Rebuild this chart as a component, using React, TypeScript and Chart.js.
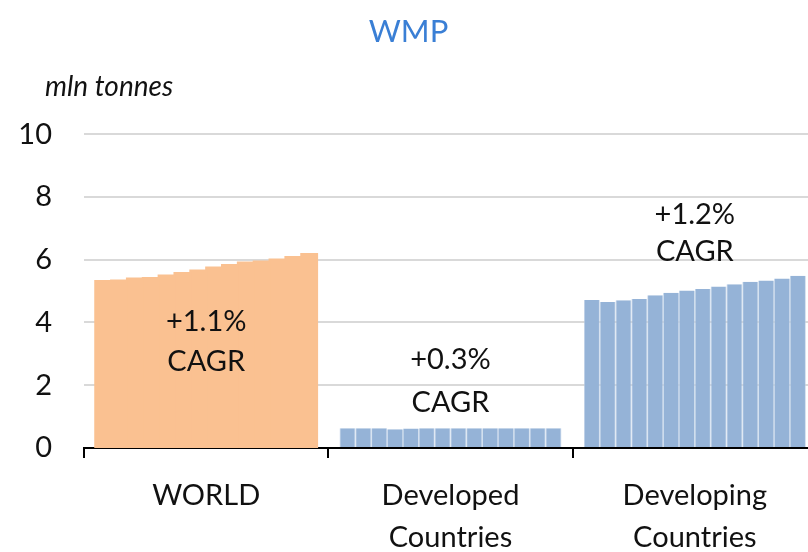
import React, { useEffect, useRef } from "react";
import { Chart, registerables } from "chart.js";

Chart.register(...registerables);

const categories: (string | string[])[] = ["WORLD", ["Developed", "Countries"], ["Developing", "Countries"]];
const years = ["2012", "2013", "2014", "2015", "2016", "2017", "2018", "2019", "2020", "2021", "2022", "2023", "2024", "2025"];
const worldValues = [5.32, 5.34, 5.4, 5.42, 5.5, 5.58, 5.66, 5.75, 5.83, 5.91, 5.94, 6.01, 6.09, 6.18];
const developedValues = [0.63, 0.63, 0.63, 0.6, 0.62, 0.63, 0.63, 0.63, 0.63, 0.63, 0.63, 0.63, 0.63, 0.63];
const developingValues = [4.72, 4.65, 4.71, 4.75, 4.87, 4.95, 5.02, 5.07, 5.15, 5.22, 5.3, 5.34, 5.4, 5.49];
const cagrLabels = ["+1.1%", "+0.3%", "+1.2%"];
const cagrLineValues = [
  [4.02, 2.75],
  [2.8, 1.45],
  [7.45, 6.25],
];
const yTicks = [0, 2, 4, 6, 8, 10];

const ORANGE = "#FAC191";
const BLUE = "#95B3D7";
const SEP = "#BCCFE6";
const FONT = "Lato, 'Open Sans', sans-serif";

const annotationPlugin = {
  id: "cagrAnnotations",
  afterDatasetsDraw(chart: any) {
    const { ctx, scales, chartArea } = chart;
    const x = scales.x;
    const y = scales.y;
    ctx.save();
    ctx.fillStyle = "#111";
    ctx.font = `29px ${FONT}`;
    ctx.textAlign = "center";
    ctx.textBaseline = "middle";
    cagrLabels.forEach((lab, i) => {
      const px = x.getPixelForValue(i);
      ctx.fillText(lab, px, y.getPixelForValue(cagrLineValues[i][0]));
      ctx.fillText("CAGR", px, y.getPixelForValue(cagrLineValues[i][1]));
    });
    ctx.font = `italic 28px ${FONT}`;
    ctx.textAlign = "left";
    ctx.fillText("mln tonnes", 45, chartArea.top - 47);
    ctx.restore();
  },
};

export default function App() {
  const ref = useRef<HTMLCanvasElement>(null);
  useEffect(() => {
    if (!ref.current) return;
    const datasets = years.map((yr, i) => ({
      label: yr,
      data: [worldValues[i], developedValues[i], developingValues[i]],
      backgroundColor: [ORANGE, BLUE, BLUE],
      borderColor: [ORANGE, SEP, SEP],
      borderWidth: (c: any) => (c.dataIndex === 0 ? 0 : { top: 0, bottom: 0, left: 0.8, right: 0.8 }),
      inflateAmount: (c: any) => (c.dataIndex === 0 ? 1 : 0),
      barPercentage: 1.0,
      categoryPercentage: 0.908,
    }));
    const chart = new Chart(ref.current, {
      type: "bar",
      data: { labels: categories, datasets },
      plugins: [annotationPlugin],
      options: {
        animation: false,
        responsive: false,
        layout: { padding: { left: 0, right: 3, top: 0, bottom: 0 } },
        plugins: {
          legend: { display: false },
          tooltip: { enabled: false },
          title: {
            display: true,
            text: "WMP",
            color: "#3A7FD5",
            font: { family: FONT, size: 31, weight: "normal", lineHeight: 1.2 },
            padding: { top: 13, bottom: 84 },
          },
        },
        scales: {
          x: {
            afterFit: (s: any) => {
              s.height = 114;
            },
            grid: {
              display: true,
              drawOnChartArea: false,
              drawTicks: true,
              tickLength: 10,
              color: "#000",
              lineWidth: 2,
              offset: true,
            },
            border: { display: true, color: "#000", width: 2 },
            ticks: {
              color: "#111",
              padding: 17,
              font: { family: FONT, size: 29, lineHeight: 1.45 },
              maxRotation: 0,
              autoSkip: false,
            },
          },
          y: {
            min: 0,
            max: 10,
            afterFit: (s: any) => {
              s.width = 84;
            },
            afterBuildTicks: (s: any) => {
              s.ticks = yTicks.map((v) => ({ value: v }));
            },
            border: { display: false },
            grid: {
              drawTicks: false,
              lineWidth: 2,
              color: (c: any) => (c.tick && c.tick.value === 0 ? "rgba(0,0,0,0)" : "#D9D9D9"),
            },
            ticks: {
              color: "#111",
              padding: 32,
              font: { family: FONT, size: 29 },
            },
          },
        },
      },
    });
    return () => chart.destroy();
  }, []);
  return (
    <div
      style={{
        position: "fixed",
        left: 0,
        top: 0,
        width: 808,
        height: 552,
        overflow: "hidden",
        background: "#fff",
      }}
    >
      <canvas ref={ref} width={820} height={562} style={{ width: 820, height: 562, display: "block" }} />
    </div>
  );
}
